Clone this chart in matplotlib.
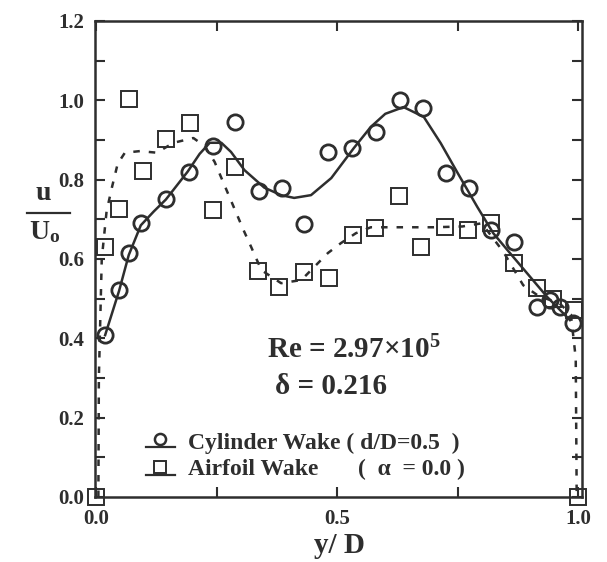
import matplotlib
matplotlib.use("Agg")
import matplotlib.pyplot as plt
from matplotlib.lines import Line2D

plt.rcParams["font.family"] = ["Liberation Serif", "DejaVu Serif"]
plt.rcParams["font.weight"] = "bold"
plt.rcParams["mathtext.fontset"] = "custom"
plt.rcParams["mathtext.rm"] = "Liberation Serif:bold"
plt.rcParams["mathtext.bf"] = "Liberation Serif:bold"
plt.rcParams["mathtext.it"] = "Liberation Serif:bold"

ink = "#2e2e2e"

# cylinder wake (d/D = 0.5), circles
cyl_x = [0.019, 0.048, 0.068, 0.093, 0.145, 0.192, 0.242, 0.289, 0.339, 0.386,
         0.432, 0.481, 0.531, 0.581, 0.630, 0.678, 0.725, 0.773, 0.820, 0.866,
         0.915, 0.942, 0.963, 0.990]
cyl_y = [0.408, 0.522, 0.615, 0.690, 0.751, 0.820, 0.885, 0.946, 0.772, 0.780,
         0.687, 0.870, 0.880, 0.919, 1.000, 0.980, 0.817, 0.778, 0.673, 0.643,
         0.479, 0.497, 0.479, 0.438]

# airfoil wake (alpha = 0), squares
air_x = [0.0, 0.019, 0.048, 0.068, 0.097, 0.145, 0.194, 0.242, 0.289, 0.337,
         0.380, 0.432, 0.483, 0.533, 0.579, 0.628, 0.675, 0.723, 0.771, 0.820,
         0.866, 0.915, 0.948, 0.992, 1.0]
air_y = [0.0, 0.630, 0.726, 1.003, 0.822, 0.902, 0.942, 0.723, 0.832, 0.570,
         0.530, 0.567, 0.552, 0.660, 0.678, 0.759, 0.630, 0.680, 0.673, 0.691,
         0.590, 0.527, 0.500, 0.472, 0.0]

# solid curve through cylinder data
fit_cyl_x = [0.019, 0.048, 0.068, 0.093, 0.120, 0.145, 0.190, 0.215, 0.236, 0.260,
             0.280, 0.308, 0.349, 0.384, 0.411, 0.446, 0.488, 0.535, 0.570, 0.600,
             0.638, 0.680, 0.715, 0.750, 0.791, 0.824, 0.853, 0.890, 0.936, 0.983]
fit_cyl_y = [0.408, 0.520, 0.610, 0.685, 0.720, 0.750, 0.820, 0.865, 0.893, 0.893,
             0.870, 0.824, 0.780, 0.761, 0.754, 0.761, 0.804, 0.880, 0.933, 0.966,
             0.983, 0.958, 0.892, 0.817, 0.731, 0.665, 0.623, 0.570, 0.504, 0.446]

# dashed curve through airfoil data
fit_air_x = [0.005, 0.006, 0.012, 0.022, 0.033, 0.045, 0.060, 0.091, 0.126, 0.161,
             0.202, 0.225, 0.246, 0.277, 0.306, 0.322, 0.343, 0.364, 0.384, 0.426,
             0.481, 0.508, 0.539, 0.570, 0.600, 0.700, 0.760, 0.800, 0.845, 0.886,
             0.920, 0.960, 0.985, 0.995, 0.997]
fit_air_y = [0.0, 0.300, 0.600, 0.720, 0.780, 0.840, 0.868, 0.872, 0.868, 0.893,
             0.905, 0.885, 0.845, 0.756, 0.673, 0.630, 0.572, 0.555, 0.539, 0.547,
             0.615, 0.640, 0.665, 0.680, 0.680, 0.680, 0.682, 0.690, 0.618, 0.534,
             0.505, 0.490, 0.460, 0.350, 0.0]

fig = plt.figure(figsize=(6.07, 5.62), dpi=100)
ax = fig.add_axes([95 / 607, 65 / 562, 487 / 607, 476 / 562])

ax.plot(fit_cyl_x, fit_cyl_y, color=ink, lw=1.8)
ax.plot(fit_air_x, fit_air_y, color=ink, lw=1.8, ls=(0, (2.6, 3.6)))
ax.plot(cyl_x, cyl_y, "o", ms=11, mfc="none", mec=ink, mew=2.0, clip_on=False)
ax.plot(air_x, air_y, "s", ms=12, mfc="none", mec=ink, mew=1.4, clip_on=False)

ax.set_xlim(-0.002, 1.008)
ax.set_ylim(0, 1.2)
ax.set_xticks([0, 0.25, 0.5, 0.75, 1.0])
ax.set_xticklabels(["0.0", "", "0.5", "", "1.0"])
yt = [i / 10 for i in range(13)]
ax.set_yticks(yt)
ax.set_yticklabels([f"{v:.1f}" if i % 2 == 0 else "" for i, v in enumerate(yt)])
ax.tick_params(direction="in", length=7, width=1.5, color=ink,
               top=True, right=True, labelsize=15, labelcolor=ink)
ax.tick_params(axis="x", pad=9)
ax.tick_params(axis="y", pad=8)
for s in ax.spines.values():
    s.set_linewidth(1.8)
    s.set_color(ink)

ax.text(0.353, 0.309, r"Re = 2.97$\times$10$^{5}$", transform=ax.transAxes,
        fontsize=21, va="center", color=ink)
ax.text(0.37, 0.233, "δ = 0.216", transform=ax.transAxes,
        fontsize=21, va="center", color=ink)

# legend drawn by hand: marker sits on top of a short line
ax.plot([0.105, 0.164], [0.105, 0.105], color=ink, lw=1.6, transform=ax.transAxes)
ax.plot([0.134], [0.121], "o", ms=8, mfc="none", mec=ink, mew=1.8, transform=ax.transAxes)
ax.plot([0.105, 0.164], [0.047, 0.047], color=ink, lw=1.6, transform=ax.transAxes)
ax.plot([0.134], [0.064], "s", ms=9, mfc="none", mec=ink, mew=1.4, transform=ax.transAxes)
ax.text(0.191, 0.113, "Cylinder Wake ( d/D=0.5  )", transform=ax.transAxes,
        fontsize=17, va="center", color=ink)
ax.text(0.191, 0.057, "Airfoil Wake", transform=ax.transAxes,
        fontsize=17, va="center", color=ink)
ax.text(0.54, 0.057, "(  α  = 0.0 )", transform=ax.transAxes,
        fontsize=17, va="center", color=ink)

# y label as a fraction u / U_o
fig.text(0.071, 0.655, "u", fontsize=20, ha="center", va="center", color=ink)
fig.add_artist(Line2D([0.044, 0.115], [0.621, 0.621], color=ink, lw=1.6))
fig.text(0.073, 0.587, r"U$_{\mathrm{o}}$", fontsize=20, ha="center", va="center", color=ink)

fig.text(0.56, 0.03, "y/ D", fontsize=21, ha="center", va="center", color=ink)

fig.savefig("out.png", dpi=100)
